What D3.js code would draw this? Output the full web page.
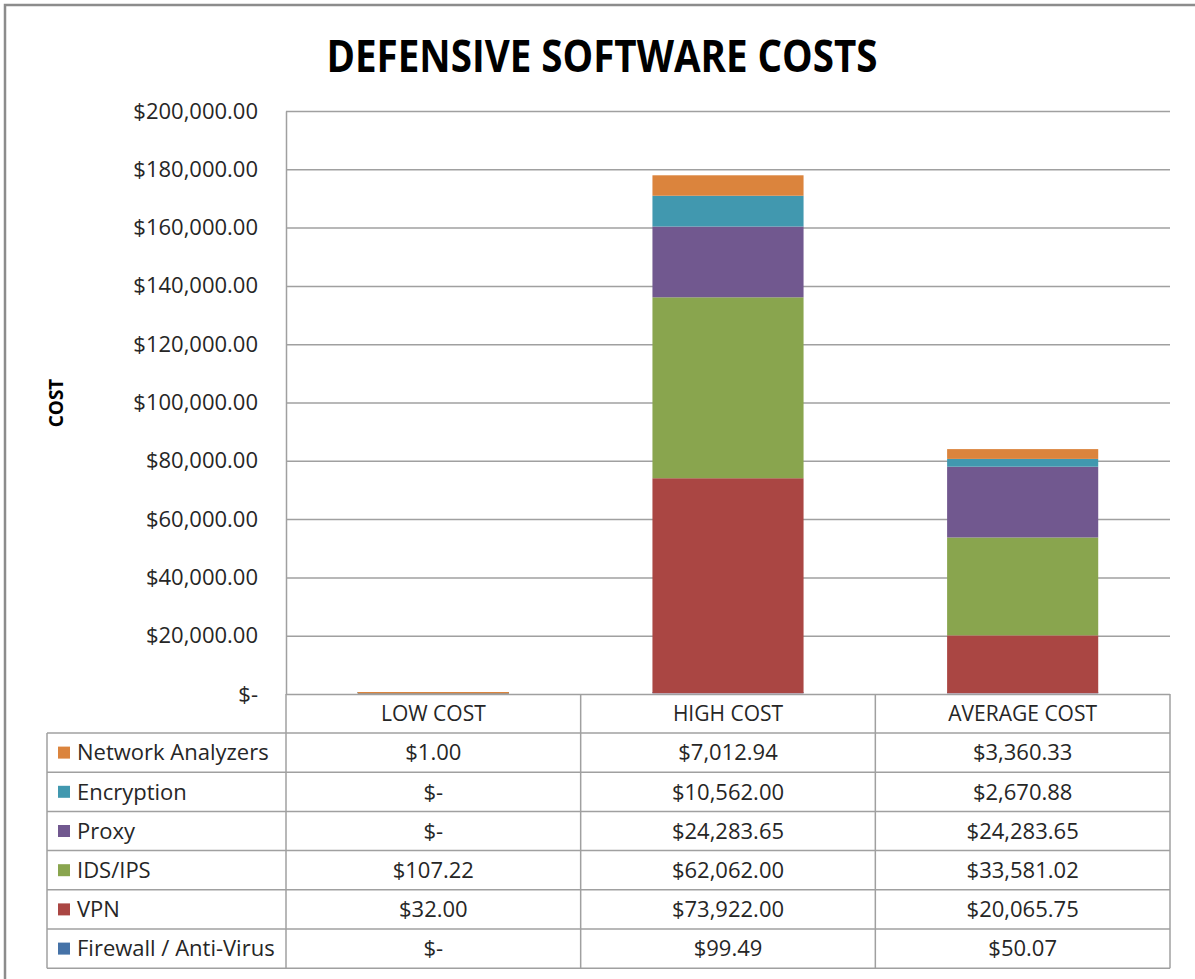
<!DOCTYPE html>
<html>
<head>
<meta charset="utf-8">
<title>Defensive Software Costs</title>
<script src="https://cdn.jsdelivr.net/npm/d3@7/dist/d3.min.js"></script>
<style>
    body { margin: 0; background: #fff; overflow: hidden; }
    #chart text { font-family: 'Open Sans', 'Noto Sans', sans-serif; fill: #262626; }
</style>
</head>
<body>
<div id="chart"></div>
<script>
    // data
    var categories = ["LOW COST", "HIGH COST", "AVERAGE COST"];
    var seriesNames = ["Firewall / Anti-Virus", "VPN", "IDS/IPS", "Proxy", "Encryption", "Network Analyzers"];
    var firewall = [0, 99.49, 50.07];
    var vpn = [32.00, 73922.00, 20065.75];
    var idsIps = [107.22, 62062.00, 33581.02];
    var proxy = [0, 24283.65, 24283.65];
    var encryption = [0, 10562.00, 2670.88];
    var networkAnalyzers = [1.00, 7012.94, 3360.33];
    var yTicks = [0, 20000, 40000, 60000, 80000, 100000, 120000, 140000, 160000, 180000, 200000];

    var seriesValues = [firewall, vpn, idsIps, proxy, encryption, networkAnalyzers];
    var colors = ["#4572A7", "#AA4643", "#89A54E", "#71588F", "#4198AF", "#DB843D"];

    var W = 1195, H = 979;
    // plot box (note: "top" is taken by window.top, so prefix everything)
    var plotL = 286, plotR = 1170, plotT = 111, plotB = 694;
    var tableLeft = 47, headerH = 39, rowH = 39.2;

    var money = function (v) { return v === 0 ? "$-" : "$" + d3.format(",.2f")(v); };

    var rows = categories.map(function (c, i) {
        var r = { cat: c };
        seriesNames.forEach(function (s, j) { r[s] = seriesValues[j][i]; });
        return r;
    });

    var svg = d3.select("#chart").append("svg").attr("width", W).attr("height", H);
    svg.append("rect").attr("width", W).attr("height", H).attr("fill", "#fff");
    svg.append("rect").attr("x", 5).attr("y", 5).attr("width", W + 20).attr("height", H + 20)
        .attr("fill", "none").attr("stroke", "#8c8c8c").attr("stroke-width", 2.5);

    var x = d3.scaleBand().domain(categories).range([plotL, plotR]);
    var y = d3.scaleLinear().domain([0, 200000]).range([plotB, plotT]);
    var barW = x.bandwidth() / 1.95;

    // title + axis title
    svg.append("text").attr("x", 602).attr("y", 72).attr("text-anchor", "middle")
        .style("font-size", "44px").style("font-weight", "bold").style("fill", "#000")
        .attr("textLength", 551).attr("lengthAdjust", "spacingAndGlyphs")
        .text("DEFENSIVE SOFTWARE COSTS");
    svg.append("text").attr("transform", "translate(63,403) rotate(-90)").attr("text-anchor", "middle")
        .style("font-size", "19px").style("font-weight", "bold").style("fill", "#000")
        .text("COST");

    // y axis with gridlines
    var yAxis = svg.append("g").attr("transform", "translate(" + plotL + ",0)")
        .call(d3.axisLeft(y).tickValues(yTicks).tickFormat(money)
            .tickSize(-(plotR - plotL)).tickSizeOuter(0).tickPadding(28));
    yAxis.selectAll("line, path").attr("stroke", "#a0a0a0").attr("stroke-width", 1.5);
    yAxis.selectAll("text").style("font-size", "22px");

    // stacked bars; Excel keeps tiny stacks visible as a ~1.5px sliver on the axis
    var stack = d3.stack().keys(seriesNames)(rows);
    svg.append("g").selectAll("g").data(stack).join("g")
        .attr("fill", function (d, i) { return colors[i]; })
        .selectAll("rect").data(function (d) { return d; }).join("rect")
        .attr("x", function (d) { return x(d.data.cat) + (x.bandwidth() - barW) / 2; })
        .attr("width", barW)
        .attr("y", function (d) { return d[1] > 0 ? Math.min(y(d[1]), plotB - 2) : y(d[1]); })
        .attr("height", function (d) {
            var top = d[1] > 0 ? Math.min(y(d[1]), plotB - 2) : y(d[1]);
            return Math.max(0, Math.min(y(d[0]), plotB - 0.75) - top);
        });

    // data table
    var tableRows = seriesNames.slice().reverse();
    var tableBottom = plotB + headerH + rowH * tableRows.length;
    var grid = svg.append("g").attr("stroke", "#a0a0a0").attr("stroke-width", 1.5);
    tableRows.concat([""]).forEach(function (s, i) {
        var yy = plotB + headerH + rowH * i;
        grid.append("line").attr("x1", tableLeft).attr("x2", plotR).attr("y1", yy).attr("y2", yy);
    });
    grid.append("line").attr("x1", tableLeft).attr("x2", tableLeft).attr("y1", plotB + headerH).attr("y2", tableBottom);
    categories.forEach(function (c) {
        grid.append("line").attr("x1", x(c)).attr("x2", x(c)).attr("y1", plotB).attr("y2", tableBottom);
    });
    grid.append("line").attr("x1", plotR).attr("x2", plotR).attr("y1", plotB).attr("y2", tableBottom);

    svg.append("g").selectAll("text").data(categories).join("text")
        .attr("x", function (c) { return x(c) + x.bandwidth() / 2; })
        .attr("y", plotB + headerH / 2).attr("dy", "0.35em").attr("text-anchor", "middle")
        .style("font-size", "21px").text(function (c) { return c; });

    var body = svg.append("g").selectAll("g").data(tableRows).join("g")
        .attr("transform", function (s, i) { return "translate(0," + (plotB + headerH + rowH * i + rowH / 2) + ")"; });
    body.append("rect").attr("x", 58).attr("y", -6).attr("width", 12).attr("height", 12)
        .attr("fill", function (s) { return colors[seriesNames.indexOf(s)]; });
    body.append("text").attr("x", 77).attr("dy", "0.35em").style("font-size", "22px").text(function (s) { return s; });
    body.selectAll("text.v").data(function (s) {
        return categories.map(function (c, i) { return { cat: c, v: seriesValues[seriesNames.indexOf(s)][i] }; });
    }).join("text").attr("class", "v")
        .attr("x", function (d) { return x(d.cat) + x.bandwidth() / 2; })
        .attr("dy", "0.35em").attr("text-anchor", "middle").style("font-size", "22px")
        .text(function (d) { return money(d.v); });
</script>
</body>
</html>
